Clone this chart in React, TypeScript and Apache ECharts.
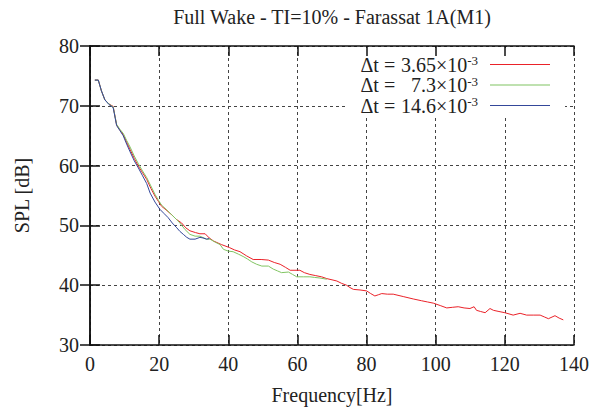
import React, { useEffect, useRef } from "react";
import * as echarts from "echarts";

const titleText = "Full Wake - TI=10% - Farassat 1A(M1)";
const xTitle = "Frequency[Hz]";
const yTitle = "SPL [dB]";

const seriesNames = ["dt1", "dt2", "dt3"];
const legendValues = ["3.65×10", "7.3×10", "14.6×10"];
const seriesColors = ["#ea2229", "#80c462", "#34489a"];

const red: [number, number][] = [
  [1.4, 74.3], [2.4, 74.3], [3.3, 72.5], [4.3, 71.0], [5.5, 70.3], [6.7, 69.9], [7.7, 66.8], [8.6, 66.0],
  [9.6, 65.2], [10.6, 63.9], [11.6, 62.7], [12.8, 61.2], [14.0, 59.9], [15.2, 58.8], [16.4, 57.7], [17.6, 56.2],
  [18.8, 54.9], [19.8, 54.0], [20.7, 53.2], [22.0, 52.6], [23.6, 51.8], [25.0, 51.0], [26.5, 50.4], [27.7, 49.6],
  [28.9, 49.1], [30.5, 48.8], [31.8, 48.6], [33.3, 48.6], [34.5, 47.9], [35.7, 47.4], [38.0, 46.8], [40.3, 46.3],
  [41.8, 45.9], [43.4, 45.6], [45.3, 44.9], [47.2, 44.3], [49.5, 44.3], [51.6, 44.2], [53.3, 43.8], [55.0, 43.5],
  [56.5, 43.0], [57.9, 42.5], [60.7, 42.5], [62.0, 42.1], [63.6, 41.8], [65.3, 41.6], [67.0, 41.4], [68.5, 41.1],
  [70.0, 40.9], [71.4, 40.7], [72.8, 40.3], [74.2, 40.0], [75.2, 39.6], [76.2, 39.3], [78.1, 39.2], [80.0, 39.05],
  [81.2, 38.6], [82.4, 38.2], [83.4, 38.4], [84.4, 38.6], [86.0, 38.5], [87.7, 38.5], [90.6, 38.1], [93.5, 37.7],
  [95.9, 37.4], [97.6, 37.2], [99.3, 37.0], [101.3, 36.6], [103.2, 36.2], [104.8, 36.3], [106.5, 36.4], [108.2, 36.2],
  [109.9, 36.1], [111.1, 36.4], [111.8, 35.8], [113.0, 35.6], [114.3, 35.4], [115.7, 36.1], [116.7, 35.8], [118.3, 35.6],
  [120.0, 35.4], [121.2, 35.2], [122.4, 35.0], [124.4, 35.3], [126.3, 35.0], [128.2, 35.0], [130.2, 35.0], [131.4, 34.7],
  [132.6, 34.4], [134.5, 34.9], [135.7, 34.5], [136.9, 34.2],
];

const green: [number, number][] = [
  [1.4, 74.3], [2.4, 74.3], [3.3, 72.5], [4.3, 71.0], [5.5, 70.3], [6.7, 69.8], [7.7, 66.9], [8.6, 66.1],
  [9.6, 65.4], [10.6, 64.2], [11.6, 63.1], [12.8, 61.6], [14.0, 60.3], [15.2, 59.1], [16.4, 58.0], [17.6, 56.6],
  [18.8, 55.2], [19.8, 54.2], [20.7, 53.4], [22.0, 52.7], [23.6, 51.8], [25.0, 51.0], [26.0, 50.4], [27.5, 49.3],
  [28.9, 48.5], [30.4, 48.2], [31.8, 48.2], [33.7, 47.7], [34.7, 47.7], [36.2, 47.2], [37.6, 46.8], [38.6, 46.0],
  [40.0, 45.7], [41.4, 45.6], [42.9, 45.2], [44.3, 44.8], [45.5, 44.4], [46.8, 43.9], [48.2, 43.5], [49.7, 43.2],
  [51.6, 43.2], [53.0, 42.7], [54.2, 42.4], [55.4, 42.1], [57.4, 42.2], [58.6, 41.8], [59.8, 41.4], [61.7, 41.4],
  [63.6, 41.4], [65.0, 41.3], [66.5, 41.2], [68.5, 41.0],
];

const blue: [number, number][] = [
  [1.4, 74.3], [2.4, 74.3], [3.3, 72.5], [4.3, 71.0], [5.5, 70.2], [6.7, 69.7], [7.7, 66.7], [8.6, 65.9],
  [9.6, 65.0], [10.6, 63.6], [11.6, 62.3], [12.8, 60.8], [14.0, 59.6], [15.2, 58.3], [16.4, 57.0], [17.4, 55.4],
  [18.8, 53.9], [20.2, 52.7], [21.4, 52.0], [22.6, 51.3], [23.8, 50.4], [25.1, 49.6], [26.0, 49.0], [27.0, 48.5],
  [28.0, 48.0], [28.9, 47.7], [30.4, 47.7], [31.8, 48.0], [32.7, 47.9], [33.7, 47.7], [34.5, 47.8],
];

const seriesData = [red, green, blue];

const FONT = "Liberation Serif";
const TEXT_COLOR = "#222";
const FS = 20;

export default function App() {
  const ref = useRef<HTMLDivElement>(null);
  useEffect(() => {
    if (!ref.current) return;
    const chart = echarts.init(ref.current, undefined, { renderer: "svg" });
    const gridLine = { show: true, lineStyle: { color: "#444", type: [3, 3] as any, width: 1 } };
    const axisLine = { show: true, lineStyle: { color: "#111", width: 1.5 } };
    const tick = { show: true, inside: true, length: 10, lineStyle: { color: "#111", width: 1.5 } };
    const labelStyle = { fontFamily: FONT, fontSize: FS, color: TEXT_COLOR };
    chart.setOption({
      animation: false,
      backgroundColor: "#fff",
      graphic: [
        {
          type: "text",
          x: 332,
          y: 17,
          style: {
            text: titleText,
            font: `${FS}px "${FONT}"`,
            fill: TEXT_COLOR,
            textAlign: "center",
            textVerticalAlign: "middle",
          },
        },
      ],
      grid: { left: 90, right: 18, top: 46, bottom: 64 },
      legend: {
        orient: "vertical",
        align: "right",
        right: 27,
        top: 48,
        padding: [6, 15, 0, 13],
        backgroundColor: "#fff",
        icon: "rect",
        itemWidth: 60,
        itemHeight: 1.2,
        itemGap: 0,
        data: seriesNames,
        formatter: (name: string) => {
          const i = seriesNames.indexOf(name);
          return `{d|Δt =}{v|${legendValues[i]}}{s|-3}`;
        },
        textStyle: {
          ...labelStyle,
          padding: [0, 7, 0, 0],
          rich: {
            d: { ...labelStyle, width: 36, lineHeight: 21 },
            v: { ...labelStyle, width: 72, align: "right", lineHeight: 21 },
            s: { fontFamily: FONT, fontSize: 13, color: TEXT_COLOR, verticalAlign: "top", lineHeight: 21 },
          },
        },
      },
      xAxis: [
        {
          type: "value",
          min: 0,
          max: 140,
          interval: 20,
          name: xTitle,
          nameLocation: "middle",
          nameGap: 40,
          nameTextStyle: labelStyle,
          axisLine,
          axisTick: tick,
          axisLabel: { ...labelStyle, margin: 9 },
          splitLine: gridLine,
        },
        {
          type: "value",
          min: 0,
          max: 140,
          interval: 20,
          position: "top",
          z: 10,
          axisLine,
          axisTick: tick,
          axisLabel: { show: false },
          splitLine: { show: false },
        },
      ],
      yAxis: [
        {
          type: "value",
          min: 30,
          max: 80,
          interval: 10,
          name: yTitle,
          nameLocation: "middle",
          nameGap: 58,
          nameTextStyle: labelStyle,
          axisLine,
          axisTick: tick,
          axisLabel: { ...labelStyle, margin: 11 },
          splitLine: gridLine,
        },
        {
          type: "value",
          min: 30,
          max: 80,
          interval: 10,
          position: "right",
          z: 10,
          axisLine,
          axisTick: tick,
          axisLabel: { show: false },
          splitLine: { show: false },
        },
      ],
      series: seriesNames.map((n, i) => ({
        name: n,
        type: "line",
        data: seriesData[i],
        symbol: "none",
        showSymbol: false,
        color: seriesColors[i],
        lineStyle: { color: seriesColors[i], width: 1 },
        z: 2 + i,
      })),
    });
    return () => chart.dispose();
  }, []);
  return <div ref={ref} style={{ width: 592, height: 410, position: "absolute", left: 0, top: 0 }} />;
}
